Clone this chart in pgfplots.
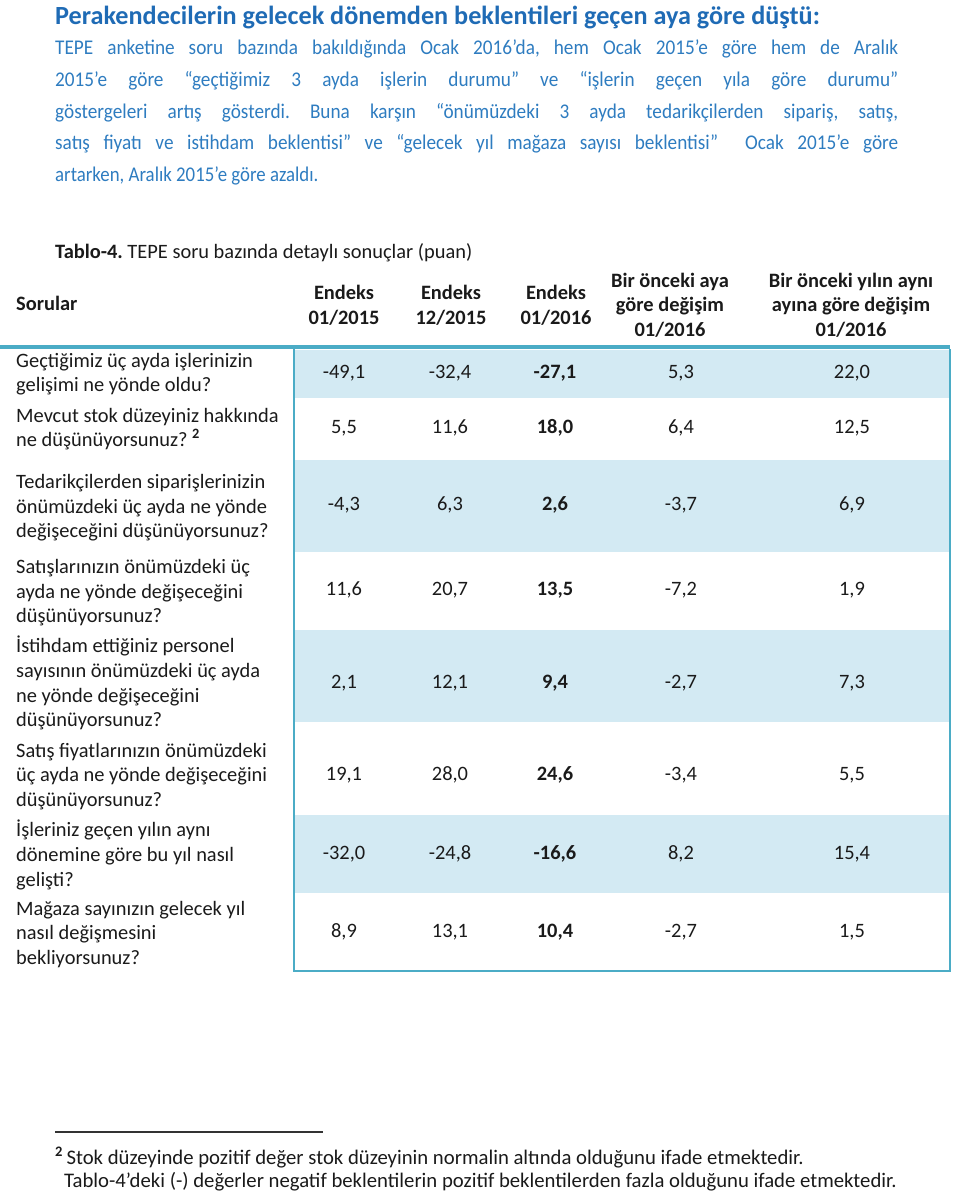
\documentclass[border=0pt]{standalone}
\usepackage{fontspec}
\setmainfont{Carlito}
\usepackage{pgfplots}
\usepackage{pgfplotstable}
\pgfplotsset{compat=1.18}
\frenchspacing
\definecolor{titleblue}{HTML}{1F6BB5}
\definecolor{bodyblue}{HTML}{2E7CC0}
\definecolor{band}{HTML}{D3EAF3}
\definecolor{rule}{HTML}{4BACC6}
\definecolor{ink}{HTML}{1A1A1A}
% row centre (y, pixels from top) and the five values of each question
\pgfplotstableread{
y    e1501  e1512  e1601  dm    dy
373  -49.1  -32.4  -27.1  5.3   22.0
428  5.5    11.6   18.0   6.4   12.5
505  -4.3   6.3    2.6    -3.7  6.9
590  11.6   20.7   13.5   -7.2  1.9
683  2.1    12.1   9.4    -2.7  7.3
775  19.1   28.0   24.6   -3.4  5.5
854  -32.0  -24.8  -16.6  8.2   15.4
932  8.9    13.1   10.4   -2.7  1.5
}\tepe
\newcommand{\tf}{\fontsize{20.5}{24}\selectfont}
\newcommand{\jl}[1]{\scalebox{0.92}[1]{\makebox[916.3bp][s]{#1}}}
\begin{document}
\begin{tikzpicture}
\begin{axis}[
  scale only axis, width=960bp, height=1196bp,
  xmin=0, xmax=960, ymin=0, ymax=1196, y dir=reverse,
  hide axis, clip=false,
  /pgf/number format/assume math mode=true,
  vals/.style={draw=none, mark=none, point meta=explicit,
    every node near coord/.append style={anchor=center, inner sep=0pt, text=ink, font=\tf},
    nodes near coords={\pgfmathprintnumber[fixed,fixed zerofill,precision=1,use comma]{\pgfplotspointmeta}}},
]
% bands
\addplot[fill=band, draw=none] coordinates {(295,350) (949,350) (949,398) (295,398)} -- cycle;
\addplot[fill=band, draw=none] coordinates {(295,460) (949,460) (949,552) (295,552)} -- cycle;
\addplot[fill=band, draw=none] coordinates {(295,630) (949,630) (949,722) (295,722)} -- cycle;
\addplot[fill=band, draw=none] coordinates {(295,815) (949,815) (949,893) (295,893)} -- cycle;
\addplot[draw=rule, line width=1.6bp] coordinates {(294,349) (294,971) (950,971) (950,349)};
\addplot[draw=rule, line width=4bp] coordinates {(0,347) (950,347)};
% values
\addplot[vals] table[x expr=344, y=y, meta=e1501] {\tepe};
\addplot[vals] table[x expr=450, y=y, meta=e1512] {\tepe};
\addplot[vals, every node near coord/.append style={font=\tf\bfseries}] table[x expr=555, y=y, meta=e1601] {\tepe};
\addplot[vals] table[x expr=681, y=y, meta=dm] {\tepe};
\addplot[vals] table[x expr=852, y=y, meta=dy] {\tepe};
% title and paragraph
\node[anchor=base west, inner sep=0pt, text=titleblue, font=\fontsize{26.3}{28}\selectfont\bfseries] at (axis cs:55,25) {Perakendecilerin gelecek dönemden beklentileri geçen aya göre düştü:};
\begin{scope}[every node/.style={anchor=base west, inner sep=0pt, text=bodyblue, font=\fontsize{21}{24}\selectfont}]
\node at (axis cs:55,55) {\jl{TEPE anketine soru bazında bakıldığında Ocak 2016’da, hem Ocak 2015’e göre hem de Aralık}};
\node at (axis cs:55,87) {\jl{2015’e göre “geçtiğimiz 3 ayda işlerin durumu” ve “işlerin geçen yıla göre durumu”}};
\node at (axis cs:55,119) {\jl{göstergeleri artış gösterdi. Buna karşın “önümüzdeki 3 ayda tedarikçilerden sipariş, satış,}};
\node at (axis cs:55,150) {\jl{satış fiyatı ve istihdam beklentisi” ve “gelecek yıl mağaza sayısı beklentisi”\ \ Ocak 2015’e göre}};
\node at (axis cs:55,182) {\scalebox{0.9}[1]{artarken, Aralık 2015’e göre azaldı.}};
\end{scope}
% table caption and header
\begin{scope}[every node/.style={anchor=base west, inner sep=0pt, text=ink, font=\tf}]
\node at (axis cs:55,258) {\textbf{Tablo-4.} TEPE soru bazında detaylı sonuçlar (puan)};
\node at (axis cs:16,310) {\textbf{Sorular}};
\end{scope}
\begin{scope}[every node/.style={anchor=base, inner sep=0pt, text=ink, font=\tf\bfseries}]
\node at (axis cs:344,299) {Endeks}; \node at (axis cs:344,324) {01/2015};
\node at (axis cs:451,299) {Endeks}; \node at (axis cs:451,324) {12/2015};
\node at (axis cs:556,299) {Endeks}; \node at (axis cs:556,324) {01/2016};
\node at (axis cs:670,287) {Bir önceki aya}; \node at (axis cs:670,311) {göre değişim}; \node at (axis cs:670,336) {01/2016};
\node at (axis cs:851,287) {Bir önceki yılın aynı}; \node at (axis cs:851,311) {ayına göre değişim}; \node at (axis cs:851,336) {01/2016};
\end{scope}
% questions
\begin{scope}[every node/.style={anchor=base west, inner sep=0pt, text=ink, font=\tf}]
\node at (axis cs:16,367) {Geçtiğimiz üç ayda işlerinizin};
\node at (axis cs:16,391) {gelişimi ne yönde oldu?};
\node at (axis cs:16,422) {Mevcut stok düzeyiniz hakkında};
\node at (axis cs:16,446) {ne düşünüyorsunuz? \textsuperscript{\bfseries 2}};
\node at (axis cs:16,488) {Tedarikçilerden siparişlerinizin};
\node at (axis cs:16,513) {önümüzdeki üç ayda ne yönde};
\node at (axis cs:16,537) {değişeceğini düşünüyorsunuz?};
\node at (axis cs:16,573) {Satışlarınızın önümüzdeki üç};
\node at (axis cs:16,598) {ayda ne yönde değişeceğini};
\node at (axis cs:16,622) {düşünüyorsunuz?};
\node at (axis cs:16,652) {İstihdam ettiğiniz personel};
\node at (axis cs:16,677) {sayısının önümüzdeki üç ayda};
\node at (axis cs:16,702) {ne yönde değişeceğini};
\node at (axis cs:16,726) {düşünüyorsunuz?};
\node at (axis cs:16,757) {Satış fiyatlarınızın önümüzdeki};
\node at (axis cs:16,781) {üç ayda ne yönde değişeceğini};
\node at (axis cs:16,806) {düşünüyorsunuz?};
\node at (axis cs:16,836) {İşleriniz geçen yılın aynı};
\node at (axis cs:16,861) {dönemine göre bu yıl nasıl};
\node at (axis cs:16,886) {gelişti?};
\node at (axis cs:16,915) {Mağaza sayınızın gelecek yıl};
\node at (axis cs:16,939) {nasıl değişmesini};
\node at (axis cs:16,964) {bekliyorsunuz?};
% footnote
\node[font=\fontsize{20.8}{24}\selectfont] at (axis cs:55,1164) {\textsuperscript{\bfseries 2}\,Stok düzeyinde pozitif değer stok düzeyinin normalin altında olduğunu ifade etmektedir.};
\node[font=\fontsize{20.8}{24}\selectfont] at (axis cs:64,1187) {Tablo-4’deki (-) değerler negatif beklentilerin pozitif beklentilerden fazla olduğunu ifade etmektedir.};
\end{scope}
\addplot[draw=black!80, line width=1.5bp] coordinates {(55,1132) (323,1132)};
\end{axis}
\pgfresetboundingbox
\path (0,0) rectangle (960bp,1196bp);
\end{tikzpicture}
\end{document}
